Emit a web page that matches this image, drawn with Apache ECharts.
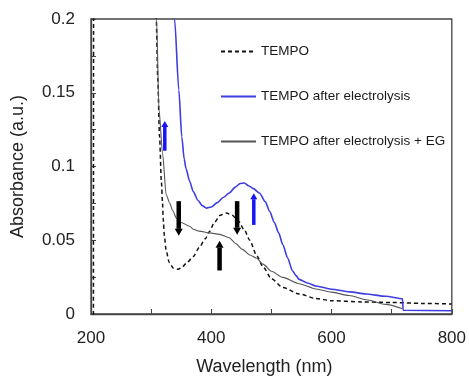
<!DOCTYPE html>
<html><head><meta charset="utf-8">
<script src="https://cdn.jsdelivr.net/npm/echarts@6/dist/echarts.min.js"></script>
<style>html,body{margin:0;padding:0;background:#fff}#c{width:469px;height:381px}</style>
</head><body><div id="c"></div>
<script>
// Series names
const seriesNames = ['TEMPO', 'TEMPO after electrolysis', 'TEMPO after electrolysis + EG'];
// [wavelength nm, absorbance]
const tempo = [[204,-0.01],[205,0.6],[307,0.6],[308.5,0.2],[311,0.16],[314,0.12],[317,0.09],[319,0.075],[320,0.065],[322,0.053],[325,0.043],[330,0.035],[337,0.031],[345,0.0303],[352,0.032],[360,0.035],[370,0.039],[380,0.045],[390,0.051],[397,0.056],[405,0.062],[415,0.067],[425,0.0685],[435,0.067],[445,0.063],[455,0.057],[464,0.05],[475,0.04],[486,0.032],[500,0.024],[519,0.018],[546,0.0136],[574,0.0105],[600,0.009],[650,0.0082],[700,0.0078],[750,0.0072],[800,0.0068]];
const afterElectrolysis = [[335,0.3],[339,0.2],[346,0.152],[351,0.12],[355,0.105],[358,0.0986],[364,0.09],[370,0.083],[378,0.077],[385,0.0735],[392,0.0718],[400,0.0725],[410,0.0755],[420,0.079],[430,0.082],[440,0.086],[448,0.0885],[455,0.0888],[462,0.087],[470,0.085],[480,0.082],[490,0.076],[497,0.0696],[505,0.062],[512,0.055],[519,0.047],[527,0.038],[535,0.0293],[541,0.026],[546,0.0235],[560,0.021],[574,0.019],[600,0.0168],[630,0.015],[657,0.0136],[690,0.012],[718,0.0103],[719,0.0025],[800,0.0022]];
const afterElectrolysisEG = [[307,0.6],[309,0.2],[313,0.139],[319,0.109],[325,0.081],[331,0.075],[336,0.07],[342,0.065],[350,0.062],[364,0.0595],[370,0.0575],[380,0.0562],[397,0.055],[414,0.054],[430,0.0517],[440,0.048],[452,0.0438],[464,0.04],[475,0.038],[486,0.0338],[500,0.029],[519,0.0248],[546,0.0205],[574,0.017],[600,0.0148],[629,0.0125],[660,0.0095],[690,0.0065],[718,0.0036]];
// Arrows: [wavelength, tail absorbance, tip absorbance]
const blueArrows = [[322.7,0.1107,0.1309],[470.7,0.0604,0.0819]];
const blackArrows = [[345.9,0.0765,0.053],[413.8,0.0295,0.0497],[443,0.0765,0.0537]];
// Axis ticks
const xMin = 200, xMax = 800, xStep = 100, xLabelStep = 200;
const yMin = 0, yMax = 0.2, yStep = 0.025, yLabelStep = 0.05;

function arrowRender(color, shaftW, headW, headL) {
  return function (params, api) {
    const p1 = api.coord([api.value(0), api.value(1)]);
    const p2 = api.coord([api.value(0), api.value(2)]);
    const x = p1[0];
    const dir = p2[1] < p1[1] ? -1 : 1;
    const baseY = p2[1] - dir * headL;
    return {
      type: 'group',
      children: [
        { type: 'rect', shape: { x: x - shaftW / 2, y: Math.min(p1[1], baseY), width: shaftW, height: Math.abs(baseY - p1[1]) }, style: { fill: color } },
        { type: 'polygon', shape: { points: [[x - headW / 2, baseY], [x + headW / 2, baseY], [x, p2[1]]] }, style: { fill: color } }
      ]
    };
  };
}

const chart = echarts.init(document.getElementById('c'), null, { renderer: 'canvas' });
const font = 'Liberation Sans, Arial, sans-serif';
chart.setOption({
  animation: false,
  backgroundColor: '#fff',
  grid: { left: 91, right: 16, top: 19, bottom: 64, show: true, borderColor: '#444', borderWidth: 1.3 },
  legend: {
    orient: 'vertical', left: 220, top: 44.5, padding: 0, itemWidth: 35, itemHeight: 14, itemGap: 31,
    data: seriesNames,
    itemStyle: { color: 'rgba(0,0,0,0)', borderColor: 'rgba(0,0,0,0)', borderWidth: 0 },
    textStyle: { fontFamily: font, fontSize: 13.5, color: '#1a1a1a' }
  },
  xAxis: {
    type: 'value', min: xMin, max: xMax, interval: xStep,
    name: 'Wavelength (nm)', nameLocation: 'middle', nameGap: 44,
    nameTextStyle: { fontFamily: font, fontSize: 18, color: '#222', padding: [0, 14, 0, 0] },
    axisLine: { lineStyle: { color: '#444', width: 1.3 } },
    axisTick: { inside: true, length: 5, lineStyle: { color: '#444' } },
    splitLine: { show: false },
    axisLabel: { fontFamily: font, fontSize: 17, color: '#222', margin: 16,
      formatter: v => (Math.round(v) % xLabelStep === 0 ? String(Math.round(v)) : '') }
  },
  yAxis: {
    type: 'value', min: yMin, max: yMax, interval: yStep,
    name: 'Absorbance (a.u.)', nameLocation: 'middle', nameGap: 64,
    nameTextStyle: { fontFamily: font, fontSize: 18, color: '#222' },
    axisLine: { show: true, lineStyle: { color: '#444', width: 1.3 } },
    axisTick: { show: true, inside: true, length: 5, lineStyle: { color: '#444' } },
    splitLine: { show: false },
    axisLabel: { fontFamily: font, fontSize: 17, color: '#222', margin: 16,
      formatter: v => { const k = Math.round(v * 1000); return k % Math.round(yLabelStep * 1000) === 0 ? String(+(k / 1000).toFixed(3)) : ''; } }
  },
  series: [
    { name: seriesNames[0], type: 'line', data: tempo, symbol: 'none', smooth: 0.25, smoothMonotone: 'x', clip: true,
      lineStyle: { color: '#111', width: 1.5, type: [4, 3] }, itemStyle: { color: '#111' } },
    { name: seriesNames[1], type: 'line', data: afterElectrolysis, symbol: 'none', smooth: 0.25, smoothMonotone: 'x', clip: true,
      lineStyle: { color: '#3d3de0', width: 1.6 }, itemStyle: { color: '#3d3de0' } },
    { name: seriesNames[2], type: 'line', data: afterElectrolysisEG, symbol: 'none', smooth: 0.25, smoothMonotone: 'x', clip: true,
      lineStyle: { color: '#555', width: 1.1 }, itemStyle: { color: '#555' } },
    { type: 'custom', data: blueArrows, renderItem: arrowRender('#1515f5', 3.5, 7, 6), silent: true, z: 5 },
    { type: 'custom', data: blackArrows, renderItem: arrowRender('#000', 4.5, 8, 7), silent: true, z: 5 }
  ]
});
</script>
</body></html>
